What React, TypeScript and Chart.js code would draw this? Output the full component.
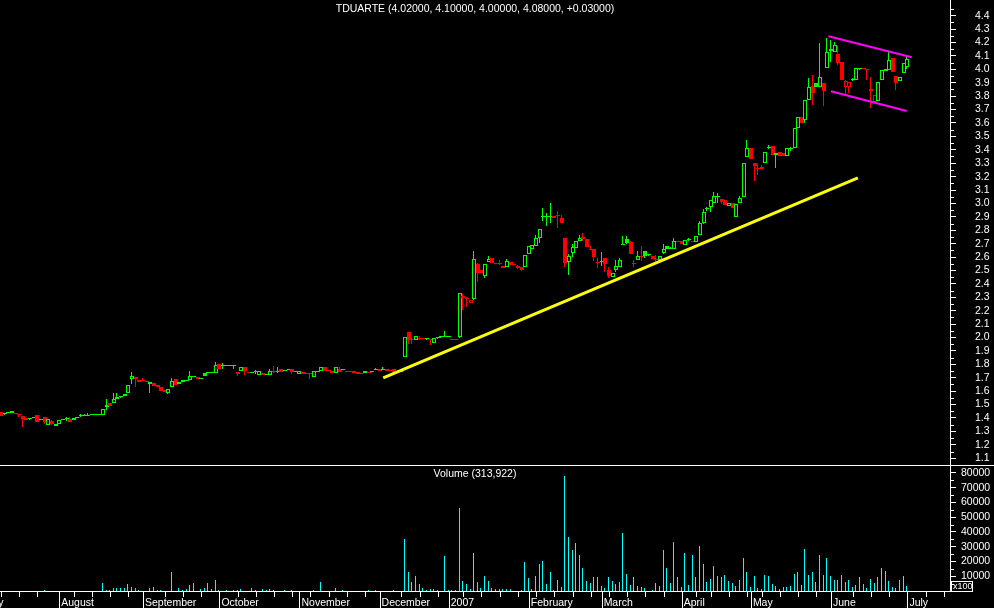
import React, { useEffect, useRef } from 'react';
import { Chart, registerables } from 'chart.js';

Chart.register(...registerables);

const SYMBOL = 'TDUARTE';

const opens = [
  1.444, 1.432, 1.436, 1.437, 1.437, 1.430, 1.415, 1.400, 1.390, 1.400,
  1.420, 1.385, 1.405, 1.350, 1.380, 1.340, 1.355, 1.385, 1.390, 1.392,
  1.385, 1.400, 1.422, 1.415, 1.418, 1.420, 1.420, 1.420, 1.420, 1.480,
  1.514, 1.510, 1.540, 1.565, 1.565, 1.584, 1.690, 1.708, 1.668, 1.680,
  1.674, 1.655, 1.658, 1.648, 1.628, 1.610, 1.590, 1.633, 1.690, 1.655,
  1.665, 1.677, 1.680, 1.708, 1.703, 1.700, 1.733, 1.733, 1.733, 1.733,
  1.800, 1.785, 1.787, 1.788, 1.788, 1.730, 1.753, 1.778, 1.743, 1.735,
  1.740, 1.724, 1.733, 1.720, 1.724, 1.745, 1.740, 1.763, 1.748, 1.763,
  1.763, 1.745, 1.728, 1.743, 1.734, 1.733, 1.708, 1.745, 1.748, 1.778,
  1.755, 1.753, 1.733, 1.763, 1.755, 1.750, 1.745, 1.748, 1.740, 1.735,
  1.733, 1.743, 1.745, 1.758, 1.768, 1.760, 1.763, 1.758, 1.763, 1.750,
  1.745, 1.857, 2.041, 1.990, 1.985, 2.000, 1.995, 1.990, 1.985, 1.957,
  1.995, 2.005, 2.010, 2.008, 1.985, 1.983, 2.006, 2.312, 2.297, 2.255,
  2.285, 2.548, 2.504, 2.459, 2.566, 2.591, 2.558, 2.553, 2.516, 2.528,
  2.566, 2.542, 2.533, 2.528, 2.528, 2.623, 2.660, 2.685, 2.740, 2.896,
  2.900, 2.898, 2.889, 2.914, 2.889, 2.740, 2.566, 2.628, 2.665, 2.722,
  2.747, 2.732, 2.660, 2.657, 2.560, 2.560, 2.590, 2.504, 2.454, 2.504,
  2.528, 2.690, 2.737, 2.715, 2.552, 2.578, 2.606, 2.645, 2.613, 2.608,
  2.585, 2.578, 2.628, 2.683, 2.663, 2.663, 2.715, 2.722, 2.692, 2.727,
  2.717, 2.712, 2.762, 2.852, 2.955, 2.976, 3.001, 3.050, 3.030, 3.026,
  2.983, 3.006, 2.896, 3.001, 3.045, 3.344, 3.413, 3.299, 3.265, 3.270,
  3.299, 3.413, 3.428, 3.359, 3.386, 3.374, 3.354, 3.405, 3.411, 3.560,
  3.642, 3.622, 3.771, 3.876, 3.896, 3.866, 3.896, 4.007, 4.140, 4.132,
  4.114, 4.057, 3.866, 3.871, 3.920, 3.920, 4.000, 4.002, 4.000, 3.851,
  3.759, 3.766, 3.920, 3.990, 3.995, 4.082, 3.950, 3.915, 3.970, 4.020,
];

const highs = [
  1.444, 1.437, 1.437, 1.452, 1.437, 1.430, 1.415, 1.400, 1.402, 1.405,
  1.420, 1.390, 1.405, 1.390, 1.385, 1.358, 1.385, 1.390, 1.405, 1.405,
  1.400, 1.405, 1.432, 1.432, 1.435, 1.420, 1.420, 1.422, 1.465, 1.545,
  1.514, 1.585, 1.584, 1.565, 1.580, 1.645, 1.743, 1.708, 1.686, 1.700,
  1.674, 1.672, 1.658, 1.648, 1.628, 1.610, 1.616, 1.700, 1.690, 1.668,
  1.683, 1.685, 1.748, 1.715, 1.703, 1.700, 1.733, 1.733, 1.733, 1.817,
  1.800, 1.810, 1.788, 1.788, 1.788, 1.745, 1.778, 1.778, 1.743, 1.740,
  1.758, 1.748, 1.733, 1.728, 1.763, 1.788, 1.778, 1.763, 1.758, 1.763,
  1.763, 1.752, 1.752, 1.743, 1.734, 1.733, 1.748, 1.750, 1.778, 1.778,
  1.755, 1.753, 1.778, 1.780, 1.758, 1.750, 1.745, 1.748, 1.740, 1.735,
  1.753, 1.743, 1.750, 1.770, 1.768, 1.778, 1.763, 1.758, 1.763, 1.760,
  1.760, 2.006, 2.041, 1.995, 2.010, 2.015, 1.995, 2.000, 1.985, 1.995,
  2.003, 2.008, 2.048, 2.010, 1.985, 1.983, 2.335, 2.322, 2.300, 2.282,
  2.645, 2.553, 2.504, 2.550, 2.608, 2.591, 2.558, 2.576, 2.533, 2.583,
  2.566, 2.542, 2.540, 2.528, 2.615, 2.683, 2.690, 2.765, 2.809, 2.963,
  2.931, 3.001, 2.906, 2.944, 2.914, 2.740, 2.620, 2.700, 2.722, 2.765,
  2.777, 2.732, 2.682, 2.657, 2.590, 2.640, 2.590, 2.528, 2.484, 2.578,
  2.590, 2.757, 2.757, 2.720, 2.578, 2.645, 2.683, 2.645, 2.620, 2.608,
  2.615, 2.608, 2.697, 2.683, 2.672, 2.740, 2.715, 2.722, 2.727, 2.740,
  2.717, 2.757, 2.869, 2.956, 2.971, 3.026, 3.083, 3.075, 3.030, 3.026,
  3.006, 3.006, 2.996, 3.055, 3.304, 3.473, 3.413, 3.299, 3.287, 3.287,
  3.386, 3.436, 3.428, 3.374, 3.386, 3.374, 3.411, 3.423, 3.560, 3.647,
  3.642, 3.771, 3.933, 3.958, 3.896, 4.194, 3.896, 4.230, 4.219, 4.206,
  4.174, 4.057, 3.920, 3.908, 3.935, 4.007, 4.010, 4.002, 4.000, 3.945,
  3.809, 3.908, 3.995, 4.000, 4.132, 4.082, 3.950, 3.940, 4.050, 4.100,
];

const lows = [
  1.417, 1.420, 1.435, 1.437, 1.430, 1.410, 1.335, 1.388, 1.388, 1.400,
  1.370, 1.385, 1.355, 1.350, 1.350, 1.340, 1.355, 1.383, 1.380, 1.370,
  1.385, 1.398, 1.410, 1.415, 1.418, 1.420, 1.420, 1.420, 1.420, 1.460,
  1.490, 1.510, 1.540, 1.550, 1.565, 1.584, 1.654, 1.633, 1.668, 1.676,
  1.665, 1.584, 1.638, 1.633, 1.598, 1.596, 1.580, 1.633, 1.648, 1.655,
  1.665, 1.677, 1.680, 1.708, 1.688, 1.690, 1.714, 1.733, 1.733, 1.733,
  1.763, 1.763, 1.787, 1.788, 1.763, 1.713, 1.753, 1.718, 1.733, 1.735,
  1.728, 1.724, 1.718, 1.720, 1.724, 1.733, 1.733, 1.743, 1.748, 1.760,
  1.728, 1.745, 1.728, 1.728, 1.727, 1.693, 1.708, 1.745, 1.748, 1.753,
  1.751, 1.733, 1.733, 1.743, 1.755, 1.745, 1.743, 1.733, 1.731, 1.730,
  1.733, 1.735, 1.740, 1.758, 1.753, 1.755, 1.753, 1.748, 1.745, 1.742,
  1.745, 1.857, 1.955, 1.955, 1.985, 1.985, 1.988, 1.985, 1.945, 1.957,
  1.990, 2.000, 2.003, 2.004, 1.982, 1.980, 2.000, 2.205, 2.225, 2.255,
  2.280, 2.417, 2.480, 2.447, 2.560, 2.553, 2.550, 2.541, 2.516, 2.528,
  2.541, 2.538, 2.510, 2.498, 2.528, 2.623, 2.660, 2.685, 2.707, 2.872,
  2.832, 2.857, 2.889, 2.814, 2.857, 2.528, 2.466, 2.598, 2.665, 2.722,
  2.722, 2.677, 2.655, 2.573, 2.516, 2.535, 2.491, 2.441, 2.454, 2.490,
  2.528, 2.690, 2.697, 2.620, 2.523, 2.575, 2.573, 2.595, 2.610, 2.583,
  2.566, 2.578, 2.625, 2.660, 2.660, 2.663, 2.712, 2.697, 2.692, 2.720,
  2.715, 2.712, 2.762, 2.850, 2.946, 2.939, 3.001, 3.001, 2.996, 2.988,
  2.983, 2.968, 2.896, 3.001, 3.045, 3.344, 3.329, 3.170, 3.212, 3.254,
  3.299, 3.403, 3.364, 3.267, 3.354, 3.350, 3.354, 3.394, 3.411, 3.560,
  3.602, 3.600, 3.771, 3.734, 3.866, 3.866, 3.726, 4.007, 4.057, 4.132,
  4.032, 3.920, 3.809, 3.826, 3.915, 3.920, 3.995, 4.000, 3.920, 3.709,
  3.759, 3.766, 3.920, 3.990, 3.995, 3.983, 3.846, 3.915, 3.970, 4.000,
];

const closes = [
  1.417, 1.437, 1.437, 1.452, 1.432, 1.420, 1.390, 1.388, 1.400, 1.405,
  1.370, 1.390, 1.370, 1.390, 1.352, 1.358, 1.385, 1.390, 1.392, 1.372,
  1.398, 1.405, 1.412, 1.420, 1.420, 1.420, 1.420, 1.422, 1.465, 1.500,
  1.490, 1.540, 1.558, 1.560, 1.580, 1.645, 1.712, 1.690, 1.686, 1.676,
  1.665, 1.672, 1.638, 1.633, 1.598, 1.596, 1.616, 1.678, 1.648, 1.668,
  1.683, 1.685, 1.713, 1.715, 1.688, 1.693, 1.716, 1.733, 1.733, 1.797,
  1.763, 1.788, 1.788, 1.788, 1.788, 1.745, 1.778, 1.748, 1.733, 1.740,
  1.742, 1.748, 1.718, 1.728, 1.748, 1.740, 1.745, 1.743, 1.758, 1.760,
  1.743, 1.752, 1.752, 1.728, 1.727, 1.725, 1.748, 1.750, 1.778, 1.753,
  1.751, 1.733, 1.778, 1.743, 1.758, 1.745, 1.743, 1.733, 1.731, 1.730,
  1.753, 1.735, 1.748, 1.768, 1.753, 1.763, 1.753, 1.748, 1.745, 1.742,
  1.755, 2.006, 1.985, 1.983, 2.010, 1.990, 1.988, 1.995, 1.980, 1.995,
  2.000, 2.003, 2.004, 2.005, 1.982, 1.980, 2.330, 2.297, 2.285, 2.282,
  2.583, 2.484, 2.480, 2.548, 2.583, 2.553, 2.550, 2.548, 2.533, 2.571,
  2.541, 2.538, 2.520, 2.504, 2.615, 2.683, 2.690, 2.740, 2.809, 2.906,
  2.908, 2.910, 2.906, 2.904, 2.857, 2.553, 2.608, 2.678, 2.722, 2.740,
  2.732, 2.677, 2.655, 2.603, 2.558, 2.571, 2.548, 2.459, 2.484, 2.533,
  2.578, 2.700, 2.703, 2.623, 2.548, 2.608, 2.602, 2.605, 2.615, 2.583,
  2.580, 2.608, 2.658, 2.662, 2.670, 2.722, 2.712, 2.697, 2.727, 2.735,
  2.715, 2.757, 2.852, 2.939, 2.960, 3.026, 3.055, 3.058, 3.012, 2.988,
  3.006, 2.968, 2.996, 3.043, 3.304, 3.413, 3.329, 3.279, 3.260, 3.258,
  3.386, 3.423, 3.364, 3.374, 3.354, 3.350, 3.411, 3.412, 3.560, 3.647,
  3.602, 3.771, 3.866, 3.826, 3.866, 3.940, 3.841, 4.132, 4.155, 4.181,
  4.050, 3.920, 3.915, 3.908, 3.930, 4.007, 4.008, 4.000, 3.998, 3.838,
  3.809, 3.908, 3.995, 4.000, 4.070, 3.983, 3.901, 3.940, 4.050, 4.080,
];

// volume in units of 100 shares (axis shows "x100")
const volumes = [
  0, 0, 0, 0, 0, 0, 0, 0, 0, 0,
  0, 0, 700, 0, 0, 0, 0, 0, 0, 0,
  0, 0, 0, 0, 0, 0, 0, 0, 5400, 700,
  700, 2000, 2000, 2000, 2000, 4700, 2700, 2000, 700, 0,
  0, 2000, 2700, 700, 700, 0, 0, 12900, 0, 2000,
  700, 1400, 4100, 5400, 0, 1400, 2000, 5400, 1400, 7500,
  700, 0, 700, 0, 700, 700, 1400, 0, 0, 2000,
  700, 0, 1400, 700, 1400, 700, 0, 0, 700, 0,
  700, 0, 0, 0, 0, 0, 700, 0, 6100, 0,
  0, 0, 2000, 0, 700, 0, 0, 0, 0, 0,
  0, 700, 0, 700, 0, 0, 0, 0, 700, 0,
  0, 35300, 12900, 6100, 10200, 4700, 2000, 700, 1400, 1400,
  700, 0, 23700, 700, 700, 700, 56000, 6800, 4700, 1400,
  25800, 6100, 2000, 10200, 6800, 2000, 1400, 1400, 1400, 1400,
  1400, 0, 0, 700, 19700, 8800, 1400, 10200, 18300, 20300,
  4700, 12900, 700, 7500, 2700, 78000, 36600, 27800, 32500, 24400,
  15600, 6800, 5400, 9500, 9500, 3400, 2000, 9500, 6800, 4700,
  6100, 39300, 11500, 4100, 9500, 3400, 2700, 2000, 0, 700,
  5400, 3400, 27800, 15600, 5400, 33200, 9500, 2700, 25800, 4100,
  24400, 9500, 30500, 18300, 6100, 8100, 17000, 10200, 9500, 10800,
  6800, 5400, 3400, 7500, 22400, 12900, 2700, 10200, 2000, 1400,
  10800, 10200, 4700, 3400, 1400, 2700, 2700, 3400, 11500, 12900,
  4100, 28500, 10800, 12900, 6100, 24400, 10800, 22400, 10200, 7500,
  7500, 10800, 6100, 7500, 2700, 4100, 9500, 4700, 2000, 8100,
  5400, 9500, 15600, 13600, 6800, 2700, 2000, 7500, 10200, 3139.22,
];

// bar index of the first trading day of each month, and its label
const monthTickIdx = [-5, 16, 39, 60, 82, 104, 123, 145, 165, 187, 206, 228, 249];
const monthTickLabels = ['July', 'August', 'September', 'October', 'November', 'December', '2007', 'February', 'March', 'April', 'May', 'June', 'July'];
// first trading day of each week (minor x ticks)
const weekTickIdx = [0, 5, 10, 20, 25, 30, 35, 45, 50, 55, 65, 70, 75, 80, 85, 90, 95, 100, 110, 115, 120, 127, 132, 137, 142, 147, 152, 157, 162, 167, 172, 177, 182, 191, 195, 200, 205, 209, 214, 219, 224, 234, 239, 244, 254, 259];

const priceTicks = [1.1, 1.2, 1.3, 1.4, 1.5, 1.6, 1.7, 1.8, 1.9, 2.0, 2.1, 2.2, 2.3, 2.4, 2.5, 2.6, 2.7, 2.8, 2.9, 3.0, 3.1, 3.2, 3.3, 3.4, 3.5, 3.6, 3.7, 3.8, 3.9, 4.0, 4.1, 4.2, 4.3, 4.4];
const priceMinorTicks = [1.15, 1.25, 1.35, 1.45, 1.55, 1.65, 1.75, 1.85, 1.95, 2.05, 2.15, 2.25, 2.35, 2.45, 2.55, 2.65, 2.75, 2.85, 2.95, 3.05, 3.15, 3.25, 3.35, 3.45, 3.55, 3.65, 3.75, 3.85, 3.95, 4.05, 4.15, 4.25, 4.35, 4.45];
const volumeTicks = [10000, 20000, 30000, 40000, 50000, 60000, 70000, 80000];
const volumeMinorTicks = [5000, 15000, 25000, 35000, 45000, 55000, 65000, 75000];

// drawn trend lines (bar index, price)
const supportLine = [{ x: 105, y: 1.70 }, { x: 235.4, y: 3.19 }];
const channelUpper = [{ x: 227.3, y: 4.246 }, { x: 250.2, y: 4.09 }];
const channelLower = [{ x: 228, y: 3.836 }, { x: 248.8, y: 3.689 }];

const X_MIN = -0.27;
const X_MAX = 260.7;
const PRICE_MIN = 1.0495;
const PRICE_MAX = 4.517;
const VOL_MAX = 84700;

const GREEN = '#00ff00';
const RED = '#ff0000';
const WHITE = '#ffffff';
const FAMILY = '"Liberation Sans", Arial, sans-serif';
const FONT_SIZE = 10.5;

const idx = opens.map((_, i) => i);
const colorOf = (i: number) => (closes[i] >= (i > 0 ? closes[i - 1] : opens[i]) ? GREEN : RED);

const zeroPad = (s: any) => {
  s.paddingLeft = 0;
  s.paddingRight = 0;
  s.paddingTop = 0;
  s.paddingBottom = 0;
};

// Snap bar elements (positioned by the scales) onto whole device pixels so that
// the 1px wicks / volume bars and 4px bodies render crisply like the original.
const pixelSnap = {
  id: 'pixelSnap',
  afterDatasetsUpdate(chart: any) {
    const xs = chart.scales.x;
    chart.data.datasets.forEach((ds: any, di: number) => {
      const meta = chart.getDatasetMeta(di);
      if (meta.type !== 'bar') return;
      const isBody = ds.label === 'body';
      const isVolume = ds.label === 'volume';
      meta.data.forEach((el: any, i: number) => {
        const col = Math.round(xs.getPixelForValue(ds.data[i].x));
        el.x = isBody ? col : col - 0.5;
        const y0 = Math.min(el.y, el.base);
        const y1 = Math.max(el.y, el.base);
        if (isVolume && y1 - y0 < 0.01) return;
        let top = Math.round(y0);
        let bottom = Math.round(y1);
        if (bottom - top < 1) bottom = top + 1;
        el.y = top;
        el.base = bottom;
      });
    });
  },
};

const priceOverlay = {
  id: 'priceOverlay',
  afterDraw(chart: any) {
    const { ctx, chartArea, scales } = chart;
    const last = closes.length - 1;
    const chg = closes[last] - closes[last - 1];
    const text = `${SYMBOL} (${opens[last].toFixed(5)}, ${highs[last].toFixed(5)}, ${lows[last].toFixed(5)}, ${closes[last].toFixed(5)}, ${chg >= 0 ? '+' : ''}${chg.toFixed(5)})`;
    ctx.save();
    ctx.fillStyle = WHITE;
    ctx.font = `${FONT_SIZE}px ${FAMILY}`;
    ctx.textAlign = 'center';
    ctx.textBaseline = 'middle';
    ctx.fillText(text, (chartArea.left + chartArea.right) / 2, 9.5);
    const ys = scales.y;
    ctx.strokeStyle = WHITE;
    ctx.lineWidth = 1;
    ctx.beginPath();
    for (const v of priceMinorTicks) {
      const y = Math.round(ys.getPixelForValue(v)) + 0.5;
      if (y < ys.top || y > ys.bottom) continue;
      ctx.moveTo(ys.left + 1, y);
      ctx.lineTo(ys.left + 4, y);
    }
    ctx.stroke();
    ctx.restore();
  },
};

const volumeOverlay = {
  id: 'volumeOverlay',
  afterDraw(chart: any) {
    const { ctx, chartArea, scales } = chart;
    const last = volumes.length - 1;
    const text = `Volume (${Math.round(volumes[last] * 100).toLocaleString('en-US')})`;
    ctx.save();
    ctx.fillStyle = WHITE;
    ctx.font = `${FONT_SIZE}px ${FAMILY}`;
    ctx.textAlign = 'center';
    ctx.textBaseline = 'middle';
    ctx.fillText(text, (chartArea.left + chartArea.right) / 2, 8);

    ctx.strokeStyle = WHITE;
    ctx.lineWidth = 1;
    ctx.beginPath();
    const ys = scales.y;
    for (const v of volumeMinorTicks) {
      const y = Math.round(ys.getPixelForValue(v)) + 0.5;
      ctx.moveTo(ys.left + 1, y);
      ctx.lineTo(ys.left + 4, y);
    }
    const xs = scales.x;
    for (const i of monthTickIdx) {
      const px = xs.getPixelForValue(i);
      if (px < 0 || px > xs.right) continue;
      const x = Math.round(px) + 0.5;
      ctx.moveTo(x, xs.top);
      ctx.lineTo(x, xs.bottom);
    }
    for (const i of weekTickIdx) {
      const px = xs.getPixelForValue(i);
      if (px < 0 || px > xs.right) continue;
      const x = Math.round(px) + 0.5;
      ctx.moveTo(x, xs.top);
      ctx.lineTo(x, xs.top + 6);
    }
    ctx.stroke();

    // "x100" multiplier box
    ctx.strokeRect(ys.left + 1.5, chartArea.bottom - 9.5, 21, 10);
    ctx.font = `9px ${FAMILY}`;
    ctx.textAlign = 'left';
    ctx.fillText('x100', ys.left + 3, chartArea.bottom - 4);
    ctx.restore();
  },
};

export default function App() {
  const priceRef = useRef<HTMLCanvasElement>(null);
  const volRef = useRef<HTMLCanvasElement>(null);

  useEffect(() => {
    const tickFont = { family: FAMILY, size: FONT_SIZE };

    const priceChart = new Chart(priceRef.current as HTMLCanvasElement, {
      type: 'bar',
      data: {
        datasets: [
          {
            type: 'bar',
            label: 'range',
            data: idx.map((i) => ({ x: i, y: [lows[i], highs[i]] })),
            backgroundColor: idx.map(colorOf),
            borderWidth: 0,
            barThickness: 1,
            minBarLength: 1,
            grouped: false,
            inflateAmount: 0,
            order: 3,
          },
          {
            type: 'bar',
            label: 'body',
            data: idx.map((i) => ({ x: i, y: [Math.min(opens[i], closes[i]), Math.max(opens[i], closes[i])] })),
            backgroundColor: idx.map((i) => (closes[i] < opens[i] ? colorOf(i) : '#000000')),
            borderColor: idx.map(colorOf),
            borderWidth: 1,
            borderSkipped: false,
            barThickness: 4,
            minBarLength: 1,
            grouped: false,
            inflateAmount: 0,
            order: 2,
          },
          {
            type: 'line',
            label: 'support',
            data: supportLine,
            borderColor: '#ffff00',
            borderWidth: 3,
            pointRadius: 0,
            tension: 0,
            order: 1,
          },
          {
            type: 'line',
            label: 'channelUpper',
            data: channelUpper,
            borderColor: '#ff00ff',
            borderWidth: 2,
            pointRadius: 0,
            tension: 0,
            order: 1,
          },
          {
            type: 'line',
            label: 'channelLower',
            data: channelLower,
            borderColor: '#ff00ff',
            borderWidth: 2,
            pointRadius: 0,
            tension: 0,
            order: 1,
          },
        ],
      } as any,
      options: {
        responsive: false,
        animation: false,
        devicePixelRatio: 1,
        layout: { padding: 0 },
        plugins: { legend: { display: false }, tooltip: { enabled: false }, title: { display: false } },
        scales: {
          x: {
            type: 'linear',
            display: false,
            min: X_MIN,
            max: X_MAX,
            offset: false,
            afterFit: zeroPad,
          },
          y: {
            type: 'linear',
            position: 'right',
            min: PRICE_MIN,
            max: PRICE_MAX,
            afterBuildTicks: (s: any) => {
              s.ticks = priceTicks.map((v) => ({ value: v }));
            },
            afterFit: (s: any) => {
              zeroPad(s);
              s.width = 44;
            },
            grid: { drawOnChartArea: false, drawTicks: true, tickLength: 6, color: WHITE, tickColor: WHITE, lineWidth: 1 },
            border: { display: true, color: WHITE, width: 1 },
            ticks: {
              autoSkip: false,
              padding: 19,
              color: WHITE,
              font: tickFont,
              callback: (v: any) => Number(v).toFixed(1),
            },
          },
        },
      } as any,
      plugins: [pixelSnap, priceOverlay],
    });

    const volumeChart = new Chart(volRef.current as HTMLCanvasElement, {
      type: 'bar',
      data: {
        datasets: [
          {
            type: 'bar',
            label: 'volume',
            data: idx.map((i) => ({ x: i, y: volumes[i] })),
            backgroundColor: '#00ffff',
            borderWidth: 0,
            barThickness: 1,
            grouped: false,
            inflateAmount: 0,
          },
        ],
      } as any,
      options: {
        responsive: false,
        animation: false,
        devicePixelRatio: 1,
        layout: { padding: 0 },
        plugins: { legend: { display: false }, tooltip: { enabled: false }, title: { display: false } },
        scales: {
          x: {
            type: 'linear',
            position: 'bottom',
            min: X_MIN,
            max: X_MAX,
            offset: false,
            afterBuildTicks: (s: any) => {
              s.ticks = monthTickIdx.map((v) => ({ value: v }));
            },
            afterFit: (s: any) => {
              zeroPad(s);
              s.height = 17;
            },
            grid: { display: true, drawOnChartArea: false, drawTicks: false },
            border: { display: true, color: WHITE, width: 1 },
            ticks: {
              autoSkip: false,
              maxRotation: 0,
              minRotation: 0,
              align: 'start',
              labelOffset: 2,
              padding: 6,
              color: WHITE,
              font: tickFont,
              callback: (_v: any, i: number) => monthTickLabels[i],
            },
          },
          y: {
            type: 'linear',
            position: 'right',
            min: 0,
            max: VOL_MAX,
            afterBuildTicks: (s: any) => {
              s.ticks = volumeTicks.map((v) => ({ value: v }));
            },
            afterFit: (s: any) => {
              zeroPad(s);
              s.width = 44;
            },
            grid: { drawOnChartArea: false, drawTicks: true, tickLength: 6, color: WHITE, tickColor: WHITE, lineWidth: 1 },
            border: { display: true, color: WHITE, width: 1 },
            ticks: {
              autoSkip: false,
              padding: 5,
              color: WHITE,
              font: tickFont,
              callback: (v: any) => String(v),
            },
          },
        },
      } as any,
      plugins: [pixelSnap, volumeOverlay],
    });

    return () => {
      priceChart.destroy();
      volumeChart.destroy();
    };
  }, []);

  return (
    <div style={{ position: 'fixed', left: 0, top: 0, width: 994, height: 608, background: '#000000', overflow: 'hidden' }}>
      <canvas ref={priceRef} width={994} height={465} style={{ position: 'absolute', left: 0, top: 0, width: 994, height: 465 }} />
      <div style={{ position: 'absolute', left: 0, top: 465, width: 994, height: 1, background: WHITE }} />
      <canvas ref={volRef} width={994} height={142} style={{ position: 'absolute', left: 0, top: 466, width: 994, height: 142 }} />
    </div>
  );
}
